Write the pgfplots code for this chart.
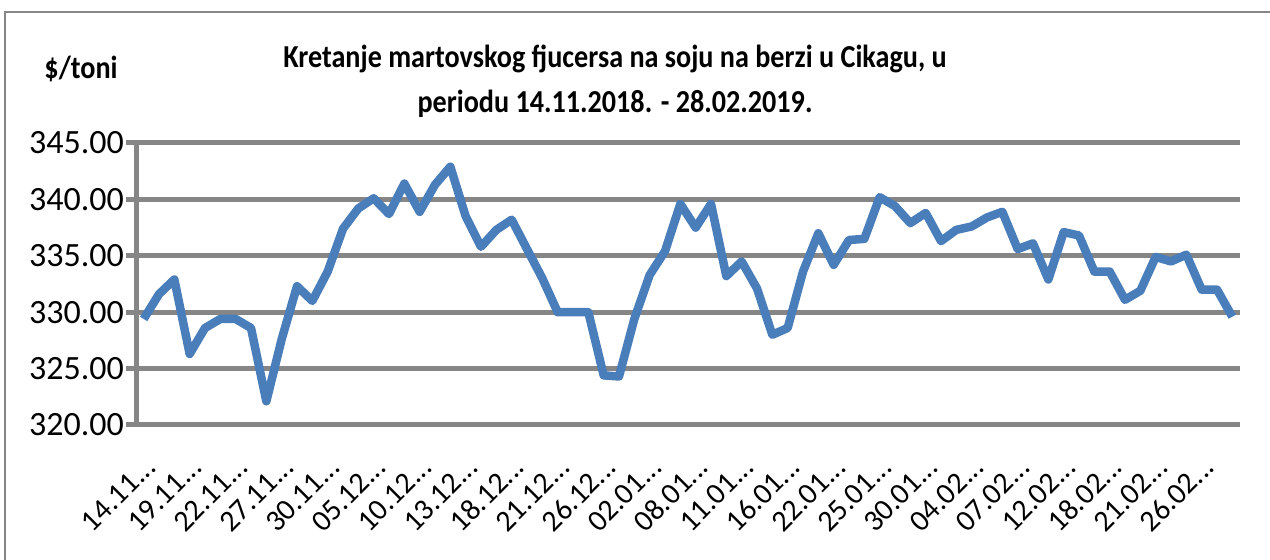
\documentclass[border=0pt]{standalone}
\usepackage{pgfplots}
\pgfplotsset{compat=1.18}
\usepackage{fontspec}
\setmainfont{Carlito}
\newfontfamily\titlefont[FakeStretch=0.88]{Carlito}
\definecolor{gridgray}{RGB}{134,134,134}
\definecolor{lineblue}{RGB}{74,126,187}
\newcommand{\el}{.\kern0pt.\kern0pt.}
\begin{document}
\begin{tikzpicture}
\useasboundingbox (0,0) rectangle (635pt,-280pt);
\draw[gridgray, line width=1pt] (2.25pt,-280pt) -- (2.25pt,-6pt) -- (635pt,-6pt);
\begin{axis}[
  at={(68pt,-212.5pt)}, anchor=south west,
  width=552pt, height=141pt, scale only axis,
  xmin=-0.5, xmax=71.5, ymin=320, ymax=345,
  ytick={320,325,...,345},
  xtick={0,3,...,69},
  xticklabels={{14.11\el},{19.11\el},{22.11\el},{27.11\el},{30.11\el},{05.12\el},{10.12\el},{13.12\el},{18.12\el},{21.12\el},{26.12\el},{02.01\el},{08.01\el},{11.01\el},{16.01\el},{22.01\el},{25.01\el},{30.01\el},{04.02\el},{07.02\el},{12.02\el},{18.02\el},{21.02\el},{26.02\el}},
  axis lines*=left,
  axis line style={gridgray, line width=2.5pt},
  ymajorgrids,
  grid style={gridgray, line width=2.5pt},
  xtick style={draw=none},
  ytick style={gridgray, line width=2.5pt},
  tick align=outside,
  major tick length=5pt,
  /pgf/number format/assume math mode=true,
  yticklabel style={xshift=2.5pt, font=\fontsize{17}{20}\selectfont, /pgf/number format/fixed, /pgf/number format/fixed zerofill, /pgf/number format/precision=2},
  xticklabel style={xshift=6pt, yshift=-11pt, rotate=45, anchor=east, font=\fontsize{15}{17}\selectfont},
]
\addplot[lineblue, line width=4.25pt, line join=round, mark=none] coordinates {
(0,329.4) (1,331.6) (2,332.9) (3,326.3) (4,328.6) (5,329.4) (6,329.4) (7,328.6)
(8,322.1) (9,327.6) (10,332.3) (11,331.0) (12,333.6) (13,337.4) (14,339.2) (15,340.1)
(16,338.7) (17,341.4) (18,338.9) (19,341.3) (20,342.9) (21,338.5) (22,335.8) (23,337.3)
(24,338.2) (25,335.6) (26,333.0) (27,330.0) (28,330.0) (29,330.0) (30,324.4) (31,324.3)
(32,329.4) (33,333.3) (34,335.4) (35,339.6) (36,337.5) (37,339.6) (38,333.2) (39,334.5)
(40,332.1) (41,328.0) (42,328.6) (43,333.6) (44,337.0) (45,334.2) (46,336.4) (47,336.5)
(48,340.2) (49,339.4) (50,337.9) (51,338.8) (52,336.3) (53,337.3) (54,337.6) (55,338.4)
(56,338.9) (57,335.6) (58,336.1) (59,332.9) (60,337.1) (61,336.8) (62,333.6) (63,333.6)
(64,331.1) (65,331.9) (66,334.9) (67,334.5) (68,335.1) (69,332.0) (70,332.0) (71,329.6)
};
\end{axis}
\node[anchor=base, font=\titlefont\bfseries\fontsize{16}{18}\selectfont] at (307.5pt,-34pt) {Kretanje martovskog fjucersa na soju na berzi u Cikagu, u};
\node[anchor=base, font=\titlefont\bfseries\fontsize{16}{18}\selectfont] at (307.5pt,-56.5pt) {periodu 14.11.2018. - 28.02.2019.};
\node[anchor=base, font=\titlefont\bfseries\fontsize{16}{18}\selectfont] at (40.5pt,-39.5pt) {\$/toni};
\end{tikzpicture}
\end{document}
